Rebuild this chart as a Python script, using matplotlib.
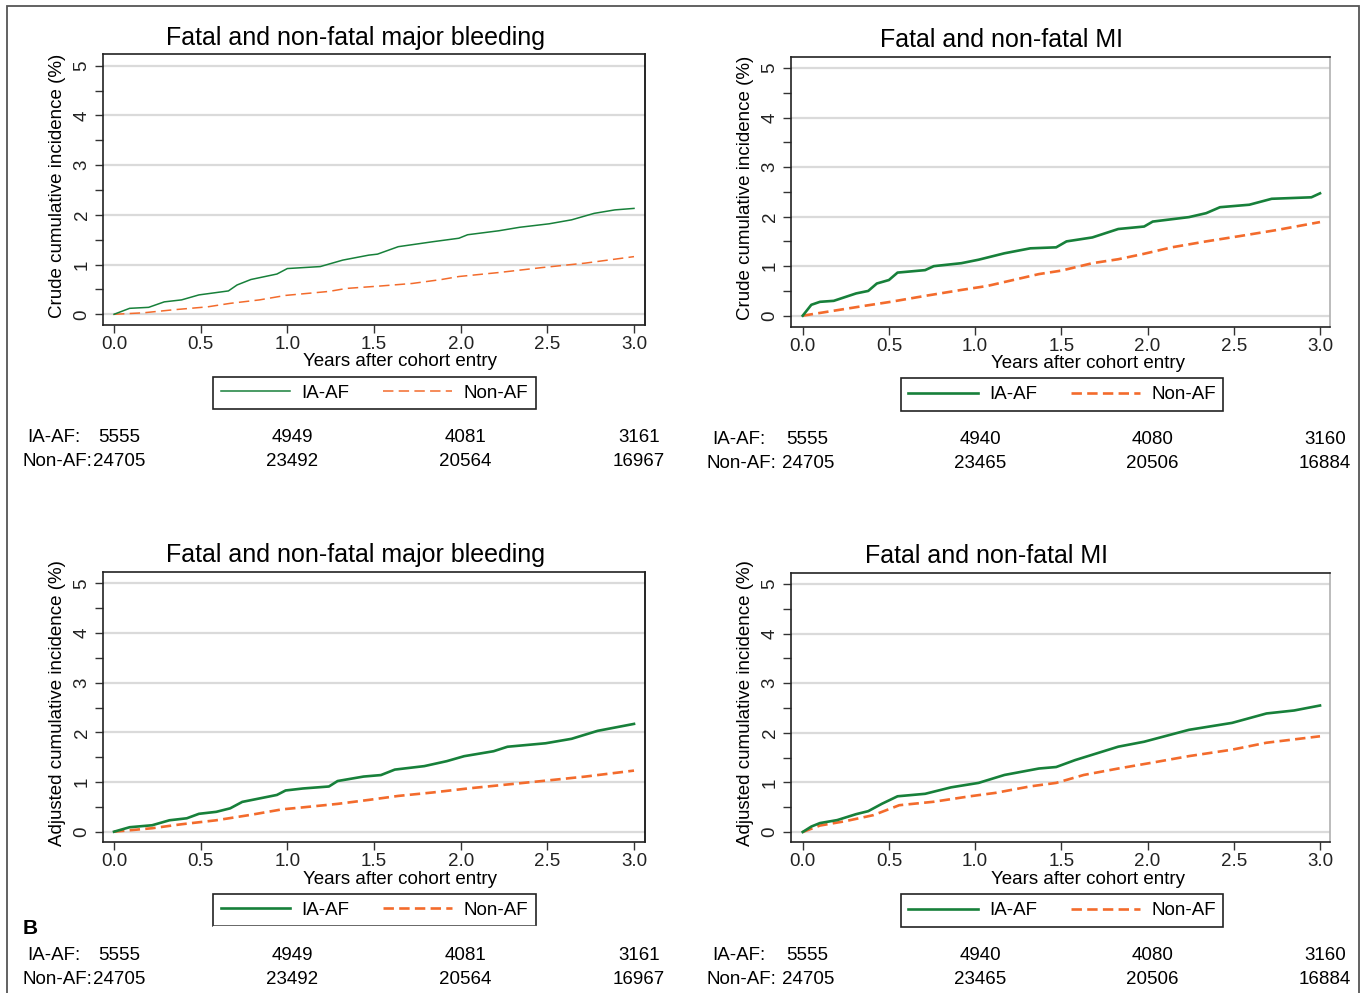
import matplotlib
matplotlib.use("Agg")
import matplotlib.pyplot as plt
from matplotlib.lines import Line2D
from matplotlib.patches import Rectangle
import matplotlib.transforms as mtransforms

plt.rcParams['font.family'] = ['Liberation Sans', 'DejaVu Sans']
plt.rcParams['lines.scale_dashes'] = False

# ---- data ----
years = [0.0, 0.5, 1.0, 1.5, 2.0, 2.5, 3.0]
risk_years = [0, 1, 2, 3]

titles = ["Fatal and non-fatal major bleeding", "Fatal and non-fatal MI",
          "Fatal and non-fatal major bleeding", "Fatal and non-fatal MI"]
ylabels = ["Crude cumulative incidence (%)", "Crude cumulative incidence (%)",
           "Adjusted cumulative incidence (%)", "Adjusted cumulative incidence (%)"]
groups = ["IA-AF", "Non-AF"]

# crude major bleeding
bc_t_af = [0, 0.09, 0.2, 0.29, 0.39, 0.49, 0.66, 0.71, 0.79, 0.94, 1.0, 1.19, 1.32,
           1.47, 1.52, 1.64, 1.84, 1.99, 2.04, 2.22, 2.34, 2.51, 2.64, 2.77, 2.89, 3.0]
bc_af = [0, 0.12, 0.14, 0.25, 0.29, 0.39, 0.47, 0.59, 0.70, 0.81, 0.92, 0.96, 1.09,
         1.19, 1.21, 1.36, 1.46, 1.53, 1.60, 1.68, 1.75, 1.82, 1.90, 2.03, 2.10, 2.13]
bc_t_non = [0, 0.17, 0.34, 0.54, 0.67, 0.84, 0.99, 1.24, 1.34, 1.54, 1.72, 1.89, 1.99,
            2.22, 2.47, 2.72, 3.0]
bc_non = [0, 0.03, 0.09, 0.15, 0.22, 0.29, 0.38, 0.46, 0.52, 0.57, 0.62, 0.70, 0.76,
          0.84, 0.94, 1.03, 1.16]

# crude MI
mc_t_af = [0, 0.05, 0.10, 0.18, 0.31, 0.38, 0.43, 0.50, 0.55, 0.71, 0.76, 0.92, 1.02,
           1.17, 1.32, 1.47, 1.53, 1.68, 1.83, 1.98, 2.03, 2.24, 2.34, 2.42, 2.59, 2.72,
           2.95, 3.0]
mc_af = [0, 0.22, 0.28, 0.30, 0.45, 0.50, 0.65, 0.72, 0.87, 0.92, 1.0, 1.06, 1.13,
         1.26, 1.36, 1.38, 1.50, 1.58, 1.75, 1.80, 1.90, 1.99, 2.07, 2.19, 2.24, 2.36,
         2.39, 2.47]
mc_t_non = [0, 0.18, 0.36, 0.51, 0.71, 0.92, 1.07, 1.22, 1.37, 1.50, 1.68, 1.83, 1.98,
            2.14, 2.34, 2.54, 2.75, 3.0]
mc_non = [0, 0.10, 0.20, 0.28, 0.40, 0.52, 0.60, 0.72, 0.84, 0.91, 1.06, 1.14, 1.25,
          1.38, 1.50, 1.61, 1.73, 1.89]

# adjusted major bleeding
ba_t_af = [0, 0.09, 0.22, 0.32, 0.42, 0.49, 0.59, 0.67, 0.74, 0.84, 0.94, 0.99, 1.09,
           1.24, 1.29, 1.44, 1.54, 1.62, 1.79, 1.92, 2.02, 2.19, 2.27, 2.49, 2.64, 2.79,
           3.0]
ba_af = [0, 0.09, 0.13, 0.23, 0.27, 0.36, 0.40, 0.47, 0.60, 0.67, 0.74, 0.83, 0.87,
         0.91, 1.02, 1.11, 1.14, 1.25, 1.32, 1.42, 1.52, 1.62, 1.71, 1.78, 1.87, 2.03,
         2.17]
ba_t_non = [0, 0.22, 0.39, 0.59, 0.79, 0.97, 1.09, 1.29, 1.47, 1.64, 1.84, 2.04, 2.24,
            2.47, 2.72, 3.0]
ba_non = [0, 0.07, 0.15, 0.23, 0.34, 0.45, 0.49, 0.56, 0.64, 0.72, 0.79, 0.87, 0.94,
          1.02, 1.11, 1.23]

# adjusted MI
ma_t_af = [0, 0.05, 0.10, 0.20, 0.31, 0.38, 0.46, 0.55, 0.71, 0.86, 1.02, 1.17, 1.37,
           1.47, 1.58, 1.83, 1.98, 2.24, 2.49, 2.69, 2.85, 3.0]
ma_af = [0, 0.11, 0.18, 0.24, 0.36, 0.42, 0.57, 0.72, 0.77, 0.90, 0.99, 1.15, 1.28,
         1.31, 1.45, 1.72, 1.82, 2.06, 2.20, 2.39, 2.45, 2.55]
ma_t_non = [0, 0.10, 0.25, 0.41, 0.56, 0.76, 0.97, 1.12, 1.32, 1.47, 1.63, 1.83, 2.03,
            2.24, 2.49, 2.69, 3.0]
ma_non = [0, 0.13, 0.22, 0.34, 0.54, 0.61, 0.72, 0.79, 0.92, 0.99, 1.15, 1.28, 1.40,
          1.53, 1.66, 1.80, 1.93]

# numbers at risk
bleed_risk_af = [5555, 4949, 4081, 3161]
bleed_risk_non = [24705, 23492, 20564, 16967]
mi_risk_af = [5555, 4940, 4080, 3160]
mi_risk_non = [24705, 23465, 20506, 16884]

GREEN = '#17803a'
ORANGE = '#f36b2c'
DASH = (0, (7.5, 3.8))
W, H = 1367, 993

fig = plt.figure(figsize=(W / 100, H / 100), dpi=100)
fig.patch.set_facecolor('white')

# outer frame (open at the bottom)
fig.add_artist(Rectangle((7 / W, -0.05), (1359 - 7) / W, 1.05 - 6 / H,
                         transform=fig.transFigure, fill=False,
                         edgecolor='#555555', lw=1.3))


def fx(p):
    return p / W


def fy(p):
    return 1 - p / H


# panel geometry in pixels: box (l, t, r, b), x of 0 and 3 years, y of 0 and 5 %
panels = [
    dict(box=(103, 54, 645, 325), x0=114, x3=634, y0=314.3, y5=65.7,
         title_xy=(356, 38), ylab_x=58, xlab_xy=(400, 362),
         leg=(217, 376, 532, 410), rows=(438, 462), lab_x=(27, 22),
         t_af=bc_t_af, af=bc_af, t_non=bc_t_non, non=bc_non,
         r_af=bleed_risk_af, r_non=bleed_risk_non, lw=1.1, rspine='black'),
    dict(box=(791, 57, 1330, 327), x0=802.7, x3=1320, y0=315.7, y5=68,
         title_xy=(1001, 40), ylab_x=746, xlab_xy=(1088, 364),
         leg=(906, 378, 1218, 411), rows=(439, 464), lab_x=(712, 706),
         t_af=mc_t_af, af=mc_af, t_non=mc_t_non, non=mc_non,
         r_af=mi_risk_af, r_non=mi_risk_non, lw=1.9, rspine='#b0b0b0'),
    dict(box=(103, 572, 645, 842), x0=114, x3=634, y0=831.7, y5=583.3,
         title_xy=(356, 555), ylab_x=58, xlab_xy=(400, 879),
         leg=(217, 893, 532, 927), rows=(955, 979), lab_x=(27, 22),
         t_af=ba_t_af, af=ba_af, t_non=ba_t_non, non=ba_non,
         r_af=bleed_risk_af, r_non=bleed_risk_non, lw=1.9, rspine='black'),
    dict(box=(791, 573, 1330, 842), x0=802.7, x3=1320, y0=832, y5=584,
         title_xy=(987, 556), ylab_x=746, xlab_xy=(1088, 879),
         leg=(906, 894, 1218, 927), rows=(955, 980), lab_x=(712, 706),
         t_af=ma_t_af, af=ma_af, t_non=ma_t_non, non=ma_non,
         r_af=mi_risk_af, r_non=mi_risk_non, lw=1.9, rspine='#b0b0b0'),
]

for i, p in enumerate(panels):
    l, t, r, b = p['box']
    ax = fig.add_axes([fx(l), fy(b), (r - l) / W, (b - t) / H])
    sx = (p['x3'] - p['x0']) / 3.0
    sy = (p['y0'] - p['y5']) / 5.0
    ax.set_xlim((l - p['x0']) / sx, (r - p['x0']) / sx)
    ax.set_ylim((p['y0'] - b) / sy, (p['y0'] - t) / sy)

    for yv in range(6):
        ax.axhline(yv, color='#dadada', lw=1.6, zorder=1)
    ax.plot(p['t_non'], p['non'], color=ORANGE, lw=p['lw'], ls=DASH, zorder=3)
    ax.plot(p['t_af'], p['af'], color=GREEN, lw=p['lw'], zorder=4)

    ax.set_xticks(years)
    ax.set_xticklabels(['%.1f' % v for v in years])
    ax.set_yticks(range(6))
    ax.set_yticks([v + 0.5 for v in range(5)], minor=True)
    ax.tick_params(axis='both', which='both', length=6, width=1, color='#333333',
                   labelsize=13.5, labelcolor='#222222')
    ax.tick_params(axis='x', pad=2)
    ax.tick_params(axis='y', pad=3)
    for lab in ax.get_yticklabels():
        lab.set_rotation(90)
        lab.set_va('center')
    for side in ['left', 'bottom', 'top']:
        ax.spines[side].set_color('#222222')
        ax.spines[side].set_linewidth(1.2)
    ax.spines['right'].set_color(p['rspine'])
    ax.spines['right'].set_linewidth(1.2)

    fig.text(fx(p['title_xy'][0]), fy(p['title_xy'][1]), titles[i],
             fontsize=18, ha='center', va='center')
    fig.text(fx(p['ylab_x']), fy((t + b) / 2 - 4), ylabels[i], fontsize=13.5,
             rotation=90, ha='center', va='center')
    fig.text(fx(p['xlab_xy'][0]), fy(p['xlab_xy'][1]), "Years after cohort entry",
             fontsize=13.5, ha='center', va='center')

    # legend
    ll, lt, lr, lb = p['leg']
    handles = [Line2D([], [], color=GREEN, lw=p['lw']),
               Line2D([], [], color=ORANGE, lw=p['lw'], ls=DASH)]
    leg = fig.legend(handles, groups, loc='center',
                     bbox_to_anchor=(fx((ll + lr) / 2), fy((lt + lb) / 2)),
                     ncol=2, frameon=True, fancybox=False, framealpha=1,
                     edgecolor='#222222', fontsize=13.5, handlelength=3.7,
                     handletextpad=0.6, columnspacing=1.8, borderpad=0.4,
                     borderaxespad=0)
    leg.get_frame().set_linewidth(1.2)
    if i == 2:
        fig.add_artist(Rectangle((fx(ll - 4), fy(940)), (lr - ll + 8) / W, 14 / H,
                                 transform=fig.transFigure, color='white', zorder=8))

    # numbers at risk, centred under the year ticks
    trans = mtransforms.blended_transform_factory(ax.transData, fig.transFigure)
    trans = mtransforms.offset_copy(trans, fig=fig, x=5, y=0, units='dots')
    for yr, n_af, n_non in zip(risk_years, p['r_af'], p['r_non']):
        fig.text(yr, fy(p['rows'][0]), str(n_af), transform=trans, fontsize=13.5,
                 ha='center', va='center', zorder=9)
        fig.text(yr, fy(p['rows'][1]), str(n_non), transform=trans, fontsize=13.5,
                 ha='center', va='center', zorder=9)
    fig.text(fx(p['lab_x'][0]), fy(p['rows'][0]), groups[0] + ":", fontsize=13.5,
             ha='left', va='center', zorder=9)
    fig.text(fx(p['lab_x'][1]), fy(p['rows'][1]), groups[1] + ":", fontsize=13.5,
             ha='left', va='center', zorder=9)

fig.text(fx(23), fy(928), "B", fontsize=15, fontweight='bold', ha='left',
         va='center', zorder=9)

fig.savefig('out.png', dpi=100, facecolor='white')
